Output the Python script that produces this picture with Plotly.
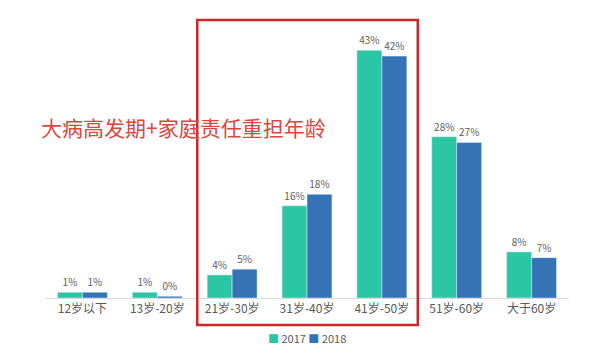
import plotly.graph_objects as go

categories = ["12岁以下", "13岁-20岁", "21岁-30岁", "31岁-40岁", "41岁-50岁", "51岁-60岁", "大于60岁"]
values_2017 = [1, 1, 4, 16, 43, 28, 8]
values_2018 = [1, 0.3, 5, 18, 42, 27, 7]
labels_2017 = ["1%", "1%", "4%", "16%", "43%", "28%", "8%"]
labels_2018 = ["1%", "0%", "5%", "18%", "42%", "27%", "7%"]
series_names = ["2017", "2018"]

FONT = "Noto Sans CJK SC, Noto Sans, sans-serif"
TEAL = "#2BC6A5"
BLUE = "#3673B6"

fig = go.Figure()
fig.add_trace(go.Bar(name=series_names[0], x=categories, y=values_2017, text=labels_2017,
                     textposition="outside", marker_color=TEAL,
                     textfont=dict(size=10, color="#606060", family=FONT),
                     cliponaxis=False))
fig.add_trace(go.Bar(name=series_names[1], x=categories, y=values_2018, text=labels_2018,
                     textposition="outside", marker_color=BLUE,
                     textfont=dict(size=10, color="#606060", family=FONT),
                     cliponaxis=False))

# page body has an 8px margin, so the figure is offset by 8px
fig.update_layout(
    width=592, height=348,
    margin=dict(l=36.5, r=30.5, t=2, b=58),
    paper_bgcolor="white", plot_bgcolor="white",
    barmode="group", bargap=1/3, bargroupgap=0,
    font=dict(family=FONT, color="#595959"),
    showlegend=False,
    xaxis=dict(showline=True, linecolor="#d9d9d9", linewidth=1, ticks="",
               tickfont=dict(size=12, color="#595959"), showgrid=False),
    yaxis=dict(range=[0, 50], visible=False, showgrid=False),
)

legend_text = (f"<span style='color:{TEAL}'>■</span> {series_names[0]} "
               f"<span style='color:{BLUE}'>■</span> {series_names[1]}")
fig.add_annotation(text=legend_text, xref="paper", yref="paper",
                   x=0.5, y=-0.139, xanchor="center", yanchor="middle",
                   showarrow=False, font=dict(size=11, color="#595959", family=FONT))

fig.add_annotation(text="大病高发期+家庭责任重担年龄", xref="paper", yref="paper",
                   x=0.265, y=0.595, xanchor="center", yanchor="middle", showarrow=False,
                   font=dict(size=21, color="#D9473F", family=FONT))

fig.add_shape(type="rect", xref="paper", yref="paper",
              x0=0.2905, x1=0.7114, y0=-0.094, y1=0.965,
              line=dict(color="#C8282A", width=2.5), layer="above")

fig.write_html("out.html")
